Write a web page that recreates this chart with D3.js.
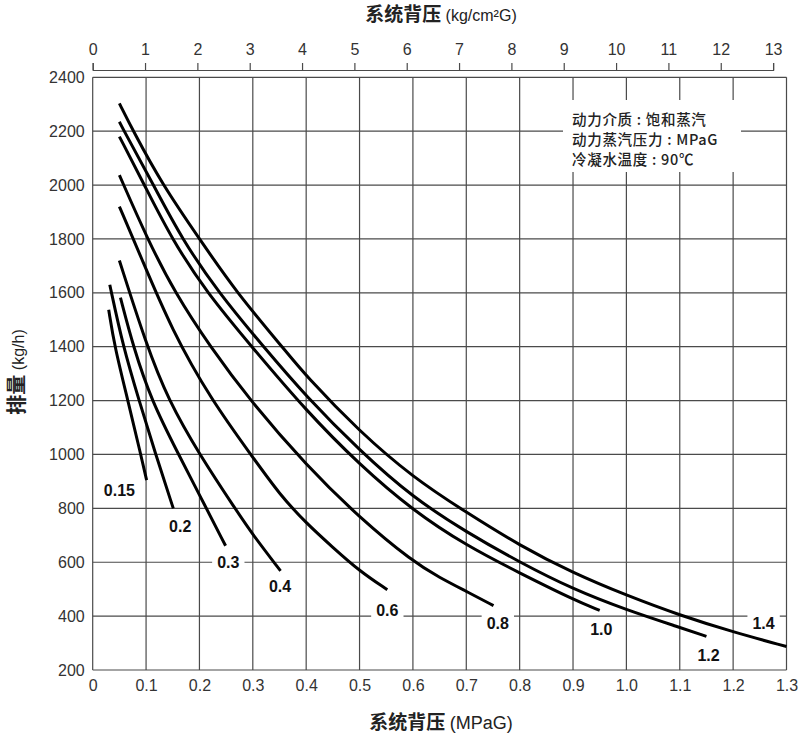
<!DOCTYPE html>
<html>
<head>
  <meta charset="utf-8">
  <title>系统背压 - 排量</title>
  <script src="https://d3js.org/d3.v7.min.js"></script>
  <style>
    body { margin: 0; background: #fff; }
    svg { display: block; }
  </style>
</head>
<body>
  <script>
  // data: back pressure (MPaG) -> capacity (kg/h)
  var motivePressures = ["0.15", "0.2", "0.3", "0.4", "0.6", "0.8", "1.0", "1.2", "1.4"];
  var p015 = [[0.03,1537],[0.041,1400],[0.066,1200],[0.09,1000],[0.101,905]];
  var p02  = [[0.032,1630],[0.057,1400],[0.087,1200],[0.118,1000],[0.151,800]];
  var p03  = [[0.052,1582],[0.076,1400],[0.11,1200],[0.161,1000],[0.2,850],[0.249,661]];
  var p04  = [[0.05,1720],[0.1,1410],[0.142,1200],[0.2,1000],[0.27,790],[0.3,702],[0.352,568]];
  var p06  = [[0.05,1920],[0.089,1740],[0.148,1462],[0.223,1200],[0.3,990],[0.35,852],[0.4,745],[0.45,655],[0.5,567],[0.552,498]];
  var p08  = [[0.05,2037],[0.1025,1800],[0.154,1600],[0.22,1400],[0.295,1200],[0.4,960],[0.5,765],[0.6,602],[0.65,543],[0.7,492],[0.751,439]];
  var p10  = [[0.05,2180],[0.097,2000],[0.148,1800],[0.214,1600],[0.298,1400],[0.4,1162],[0.5,962],[0.6,792],[0.7,662],[0.8,560],[0.9,462],[0.95,421]];
  var p12  = [[0.05,2235],[0.059,2200],[0.114,2000],[0.167,1800],[0.236,1600],[0.32,1400],[0.4,1215],[0.5,1015],[0.6,840],[0.7,712],[0.8,600],[0.9,500],[1.0,423],[1.1,358],[1.15,325]];
  var p14  = [[0.05,2303],[0.076,2200],[0.131,2000],[0.2,1800],[0.27,1600],[0.355,1400],[0.4,1290],[0.5,1085],[0.6,915],[0.7,785],[0.8,662],[0.9,560],[1.0,477],[1.1,403],[1.2,341],[1.3,287]];
  var series = [p015, p02, p03, p04, p06, p08, p10, p12, p14];

  // curve label anchors (MPaG, kg/h)
  var labelX = [0.05, 0.164, 0.254, 0.351, 0.552, 0.759, 0.953, 1.154, 1.257];
  var labelY = [869, 735, 600, 510, 420, 374, 352, 256, 374];

  var xTicks = [0, 0.1, 0.2, 0.3, 0.4, 0.5, 0.6, 0.7, 0.8, 0.9, 1.0, 1.1, 1.2, 1.3];
  var xTickLabels = ["0", "0.1", "0.2", "0.3", "0.4", "0.5", "0.6", "0.7", "0.8", "0.9", "1.0", "1.1", "1.2", "1.3"];
  var yTicks = [200, 400, 600, 800, 1000, 1200, 1400, 1600, 1800, 2000, 2200, 2400];
  var kgTicks = [0, 1, 2, 3, 4, 5, 6, 7, 8, 9, 10, 11, 12, 13];

  var legendLines = ["动力介质 : 饱和蒸汽", "动力蒸汽压力 : MPaG", "冷凝水温度 : 90℃"];

  var width = 800, height = 739;
  var cjk = "'Noto Sans CJK SC', sans-serif";
  var latin = "'Liberation Sans', Arial, sans-serif";
  var narrow = "'Liberation Sans Narrow', 'Liberation Sans', Arial, sans-serif";

  var x = d3.scaleLinear().domain([0, 1.3]).range([92.7, 786.5]);
  var y = d3.scaleLinear().domain([200, 2400]).range([670, 77.3]);
  var xKg = d3.scaleLinear().domain([0, 13]).range([x(0), x(13 * 0.0980665)]);

  var svg = d3.select("body").append("svg").attr("width", width).attr("height", height);

  // grid
  var grid = svg.append("g").attr("stroke", "#4a4a4a").attr("stroke-width", 1.2);
  grid.selectAll("line.v").data(xTicks).enter().append("line")
    .attr("x1", function(d) { return x(d); }).attr("x2", function(d) { return x(d); })
    .attr("y1", y(2400)).attr("y2", y(200));
  grid.selectAll("line.h").data(yTicks).enter().append("line")
    .attr("x1", x(0)).attr("x2", x(1.3))
    .attr("y1", function(d) { return y(d); }).attr("y2", function(d) { return y(d); });

  // legend box knocks out the grid
  svg.append("rect").attr("x", 563).attr("y", 100).attr("width", 178).attr("height", 72).attr("fill", "#fff");
  svg.append("g").selectAll("text").data(legendLines).enter().append("text")
    .attr("x", 572).attr("y", function(d, i) { return 125 + i * 20; })
    .attr("font-family", cjk).attr("font-weight", 500).attr("font-size", 14.5)
    .attr("letter-spacing", 0.7).attr("fill", "#222")
    .text(function(d) { return d; });

  // bottom axis
  var xAxis = d3.axisBottom(x).tickValues(xTicks).tickSize(0).tickPadding(10)
    .tickFormat(function(d, i) { return xTickLabels[i]; });
  svg.append("g").attr("transform", "translate(0," + y(200) + ")").call(xAxis)
    .call(function(g) { g.select(".domain").remove(); })
    .selectAll("text").attr("font-family", narrow).attr("font-size", 16).attr("fill", "#333");

  // left axis
  var yAxis = d3.axisLeft(y).tickValues(yTicks).tickSize(0).tickPadding(8).tickFormat(d3.format("d"));
  svg.append("g").attr("transform", "translate(" + x(0) + ",0)").call(yAxis)
    .call(function(g) { g.select(".domain").remove(); })
    .selectAll("text").attr("font-family", latin).attr("font-size", 16).attr("fill", "#333");

  // top axis in kg/cm2G
  var topAxis = d3.axisTop(xKg).tickValues(kgTicks).tickSize(7).tickSizeOuter(7).tickPadding(8);
  var tg = svg.append("g").attr("transform", "translate(0,70)").call(topAxis);
  tg.selectAll("path, line").attr("stroke", "#4a4a4a").attr("stroke-width", 1.2);
  tg.selectAll("text").attr("font-family", latin).attr("font-size", 16).attr("fill", "#333");

  // curves
  var line = d3.line()
    .x(function(d) { return x(d[0]); })
    .y(function(d) { return y(d[1]); })
    .curve(d3.curveBasis);
  svg.append("g").selectAll("path").data(series).enter().append("path")
    .attr("d", line).attr("fill", "none").attr("stroke", "#000").attr("stroke-width", 3);

  // curve labels with white backing
  var lab = svg.append("g").selectAll("g").data(motivePressures).enter().append("g")
    .attr("transform", function(d, i) { return "translate(" + x(labelX[i]) + "," + y(labelY[i]) + ")"; });
  lab.append("text")
    .attr("text-anchor", "middle").attr("dy", "0.36em")
    .attr("font-family", latin).attr("font-weight", "bold").attr("font-size", 16).attr("fill", "#111")
    .text(function(d) { return d; });
  lab.each(function() {
    var g = d3.select(this), b = g.select("text").node().getBBox();
    g.insert("rect", "text").attr("x", b.x - 5).attr("y", -10).attr("width", b.width + 10).attr("height", 20).attr("fill", "#fff");
  });

  // axis titles
  var tt = svg.append("text").attr("x", 441).attr("y", 21).attr("text-anchor", "middle").attr("fill", "#222");
  tt.append("tspan").attr("font-family", cjk).attr("font-weight", "bold").attr("font-size", 19).text("系统背压 ");
  tt.append("tspan").attr("font-family", latin).attr("font-size", 16).text("(kg/cm²G)");

  var bt = svg.append("text").attr("x", 441).attr("y", 729).attr("text-anchor", "middle").attr("fill", "#222");
  bt.append("tspan").attr("font-family", cjk).attr("font-weight", "bold").attr("font-size", 19).text("系统背压 ");
  bt.append("tspan").attr("font-family", narrow).attr("font-size", 18).text("(MPaG)");

  var yt = svg.append("text").attr("transform", "translate(24,372) rotate(-90)").attr("text-anchor", "middle").attr("fill", "#222");
  yt.append("tspan").attr("font-family", cjk).attr("font-weight", "bold").attr("font-size", 20).text("排量 ");
  yt.append("tspan").attr("font-family", latin).attr("font-size", 16).text("(kg/h)");
  </script>
</body>
</html>
